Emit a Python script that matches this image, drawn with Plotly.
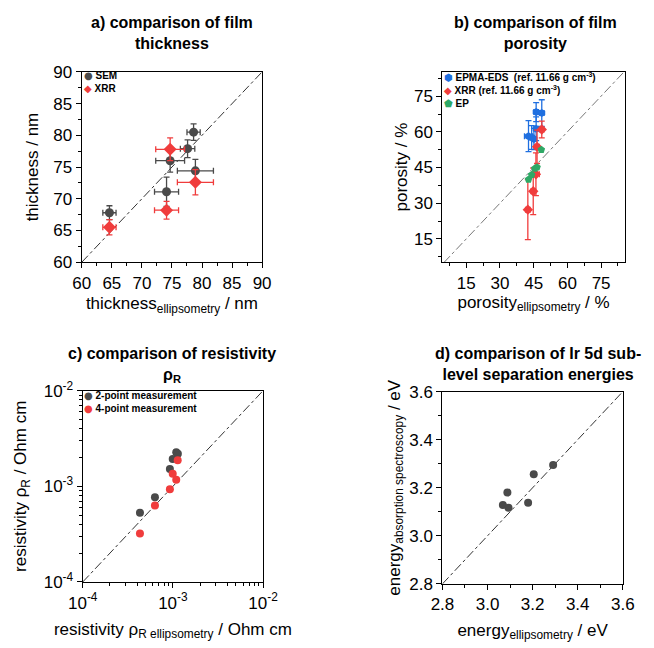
import plotly.graph_objects as go

# ---------------- data ----------------
# a) thickness
sem_x = [64.6, 78.6, 77.6, 74.7, 78.9, 74.1]
sem_y = [67.8, 80.5, 77.9, 76.0, 74.4, 71.1]
sem_xerr = [1.1, 1.1, 1.2, 2.4, 3.0, 2.0]
sem_yerr = [1.1, 1.3, 1.4, 1.8, 1.8, 2.3]
xrr_x = [64.6, 74.7, 78.9, 74.1]
xrr_y = [65.5, 77.8, 72.6, 68.2]
xrr_xerr = [1.1, 2.4, 3.0, 2.0]
xrr_yerr = [1.2, 1.8, 2.0, 1.4]

# b) porosity
epma_x = [46.1, 48.6, 42.7, 44.1, 45.1, 46.1]
epma_y = [68.3, 67.9, 58.2, 57.6, 57.0, 61.3]
epma_xerr = [1.0, 1.0, 1.8, 1.0, 1.0, 1.0]
epma_yerr = [4.0, 5.6, 6.5, 5.0, 4.5, 5.0]
xrrp_x = [48.6, 46.5, 46.0, 44.8, 42.4]
xrrp_y = [61.0, 53.7, 42.2, 35.0, 27.3]
xrrp_xerr = [1.0, 1.0, 1.5, 1.0, 1.0]
xrrp_yerr = [3.5, 7.0, 9.0, 9.8, 12.6]
ep_x = [48.4, 46.5, 45.5, 44.1, 42.7]
ep_y = [52.5, 45.1, 44.6, 42.0, 40.0]

# c) resistivity
r2_x = [4.31e-4, 6.32e-4, 9.26e-4, 9.95e-4, 1.089e-3, 1.135e-3]
r2_y = [5.3e-4, 7.7e-4, 1.52e-3, 1.93e-3, 2.27e-3, 2.19e-3]
r4_x = [4.31e-4, 6.32e-4, 9.26e-4, 9.95e-4, 1.089e-3, 1.13e-3]
r4_y = [3.22e-4, 6.3e-4, 9.3e-4, 1.35e-3, 1.17e-3, 1.87e-3]

# d) energies
e_x = [3.068, 3.088, 3.093, 3.180, 3.205, 3.291]
e_y = [3.128, 3.180, 3.117, 3.138, 3.256, 3.295]

GRAY = "#4a4a4a"
RED = "#f03c3c"
BLUE = "#1f6fe0"
GREEN = "#2fa866"
FONT = "Liberation Sans, Arial, sans-serif"

fig = go.Figure()

def eb(arr, color):
    return dict(type="data", array=arr, visible=True, color=color, thickness=1.3, width=3)

# a)
fig.add_trace(go.Scatter(x=[60, 90], y=[60, 90], mode="lines", line=dict(color="#333333", width=1, dash="dashdot"),
                         showlegend=False, xaxis="x", yaxis="y", hoverinfo="skip"))
fig.add_trace(go.Scatter(x=sem_x, y=sem_y, mode="markers", name="SEM",
                         marker=dict(symbol="circle", size=9, color=GRAY),
                         error_x=eb(sem_xerr, GRAY), error_y=eb(sem_yerr, GRAY),
                         xaxis="x", yaxis="y", showlegend=False))
fig.add_trace(go.Scatter(x=xrr_x, y=xrr_y, mode="markers", name="XRR",
                         marker=dict(symbol="diamond", size=10, color=RED),
                         error_x=eb(xrr_xerr, RED), error_y=eb(xrr_yerr, RED),
                         xaxis="x", yaxis="y", showlegend=False))

# b)
fig.add_trace(go.Scatter(x=[5, 85], y=[5, 85], mode="lines", line=dict(color="#777777", width=1, dash="dashdot"),
                         showlegend=False, xaxis="x2", yaxis="y2", hoverinfo="skip"))
fig.add_trace(go.Scatter(x=epma_x, y=epma_y, mode="markers", name="EPMA-EDS",
                         marker=dict(symbol="hexagon", size=8, color=BLUE),
                         error_x=eb(epma_xerr, BLUE), error_y=eb(epma_yerr, BLUE),
                         xaxis="x2", yaxis="y2", showlegend=False))
fig.add_trace(go.Scatter(x=xrrp_x, y=xrrp_y, mode="markers", name="XRR",
                         marker=dict(symbol="diamond", size=8, color=RED),
                         error_x=eb(xrrp_xerr, RED), error_y=eb(xrrp_yerr, RED),
                         xaxis="x2", yaxis="y2", showlegend=False))
fig.add_trace(go.Scatter(x=ep_x, y=ep_y, mode="markers", name="EP",
                         marker=dict(symbol="pentagon", size=8, color=GREEN),
                         xaxis="x2", yaxis="y2", showlegend=False))

# c)
fig.add_trace(go.Scatter(x=[1e-4, 1e-2], y=[1e-4, 1e-2], mode="lines", line=dict(color="#333333", width=1, dash="dashdot"),
                         showlegend=False, xaxis="x3", yaxis="y3", hoverinfo="skip"))
fig.add_trace(go.Scatter(x=r2_x, y=r2_y, mode="markers", name="2-point measurement",
                         marker=dict(symbol="circle", size=8, color=GRAY),
                         xaxis="x3", yaxis="y3", showlegend=False))
fig.add_trace(go.Scatter(x=r4_x, y=r4_y, mode="markers", name="4-point measurement",
                         marker=dict(symbol="circle", size=8, color=RED),
                         xaxis="x3", yaxis="y3", showlegend=False))

# d)
fig.add_trace(go.Scatter(x=[2.8, 3.6], y=[2.8, 3.6], mode="lines", line=dict(color="#333333", width=1, dash="dashdot"),
                         showlegend=False, xaxis="x4", yaxis="y4", hoverinfo="skip"))
fig.add_trace(go.Scatter(x=e_x, y=e_y, mode="markers", showlegend=False,
                         marker=dict(symbol="circle", size=8, color=GRAY),
                         xaxis="x4", yaxis="y4"))

W, H = 654, 648
TS = 17
def dx(a, b):
    return [a / W, b / W]
def dy(top, bottom):
    return [1 - bottom / H, 1 - top / H]

def ax(domain, anchor, rng, dtick=None, minor=None, title=None, typ="linear", tickvals=None, ticktext=None,
       standoff=8, tickformat=None):
    d = dict(domain=domain, anchor=anchor, range=rng, type=typ,
             showline=True, linecolor="black", linewidth=1.3, mirror=True,
             ticks="outside", ticklen=5, tickwidth=1.2, tickcolor="black",
             showgrid=False, zeroline=False,
             tickfont=dict(family=FONT, size=TS, color="black"),
             title=dict(text=title, font=dict(family=FONT, size=TS, color="black"), standoff=standoff))
    if dtick is not None:
        d["dtick"] = dtick
        d["tick0"] = 0
    if tickvals is not None:
        d["tickmode"] = "array"
        d["tickvals"] = tickvals
        d["ticktext"] = ticktext
    if minor is not None:
        d["minor"] = minor
    if tickformat is not None:
        d["tickformat"] = tickformat
    return d

mi = lambda dt: dict(ticks="outside", ticklen=3, tickcolor="black", dtick=dt, tick0=0)
logminor = dict(ticks="outside", ticklen=3, tickcolor="black",
                tickvals=[k * 10 ** e for e in (-4, -3) for k in range(2, 10)])

def legend_text(items):
    lines = []
    for g, col, lab in items:
        lines.append("<span style='color:%s;font-family:DejaVu Sans'>%s</span> <b>%s</b>" % (col, g, lab))
    return "<br>".join(lines)

LEG = 10
anns = [
    dict(text=legend_text([("●", GRAY, "SEM"), ("◆", RED, "XRR")]),
         x=70 / W, y=1 - 58 / H, xref="paper", yref="paper", xanchor="left", yanchor="top", align="left",
         showarrow=False, font=dict(family=FONT, size=LEG, color="black")),
    dict(text=legend_text([("⬢", BLUE, "EPMA-EDS  (ref. 11.66 g cm<sup>-3</sup>)"),
                           ("◆", RED, "XRR (ref. 11.66 g cm<sup>-3</sup>)"),
                           ("⬟", GREEN, "EP")]),
         x=448 / W, y=1 - 59 / H, xref="paper", yref="paper", xanchor="left", yanchor="top", align="left",
         showarrow=False, font=dict(family=FONT, size=LEG, color="black")),
    dict(text=legend_text([("●", GRAY, "2-point measurement"), ("●", RED, "4-point measurement")]),
         x=70 / W, y=1 - 389 / H, xref="paper", yref="paper", xanchor="left", yanchor="top", align="left",
         showarrow=False, font=dict(family=FONT, size=LEG, color="black")),
]

titles = [
    ("<b>a) comparison of film<br>thickness</b>", 165, 0),
    ("<b>b) comparison of film<br>porosity</b>", 545, 0),
    ("<b>c) comparison of resistivity<br>ρ<sub>R</sub></b>", 165, 343),
    ("<b>d) comparison of Ir 5d sub-<br>level separation energies</b>", 548, 343),
]
for t, x, y in titles:
    anns.append(dict(text=t, x=x / W, y=1 - y / H, xref="paper", yref="paper", xanchor="center", yanchor="top",
                     showarrow=False, font=dict(family=FONT, size=16, color="black")))

layout = dict(
    width=W, height=H, margin=dict(l=0, r=0, t=0, b=0),
    paper_bgcolor="white", plot_bgcolor="white",
    font=dict(family=FONT, color="black"),
    showlegend=False,
    xaxis=ax(dx(70, 259), "y", [60, 90], 5, mi(2.5), "thickness<sub>ellipsometry</sub> / nm", standoff=5),
    yaxis=ax(dy(62, 259), "x", [60, 90], 5, mi(2.5), "thickness / nm", standoff=10),
    xaxis2=ax(dx(448, 639), "y2", [4.4, 85.5], 15, mi(7.5), "porosity<sub>ellipsometry</sub> / %", standoff=2),
    yaxis2=ax(dy(62, 259), "x2", [5.2, 85.2], 15, mi(7.5), "porosity / %", standoff=2),
    xaxis3=ax(dx(71, 260), "y3", [-4, -2], None, logminor,
              "resistivity ρ<sub>R ellipsometry</sub> / Ohm cm", typ="log",
              tickvals=[1e-4, 1e-3, 1e-2], ticktext=["10<sup>-4</sup>", "10<sup>-3</sup>", "10<sup>-2</sup>"], standoff=11),
    yaxis3=ax(dy(392, 590), "x3", [-4, -2], None, logminor,
              "resistivity ρ<sub>R</sub> / Ohm cm", typ="log",
              tickvals=[1e-4, 1e-3, 1e-2], ticktext=["10<sup>-4</sup>", "10<sup>-3</sup>", "10<sup>-2</sup>"], standoff=12),
    xaxis4=ax(dx(448, 637), "y4", [2.8, 3.6], 0.2, mi(0.1), "energy<sub>ellipsometry</sub> / eV", standoff=10,
              tickformat=".1f"),
    yaxis4=ax(dy(393, 592), "x4", [2.8, 3.6], 0.2, mi(0.1), "energy<sub>absorption spectroscopy</sub> / eV", standoff=4,
              tickformat=".1f"),
    annotations=anns,
)
fig.update_layout(**layout)
fig.write_html("out.html")
